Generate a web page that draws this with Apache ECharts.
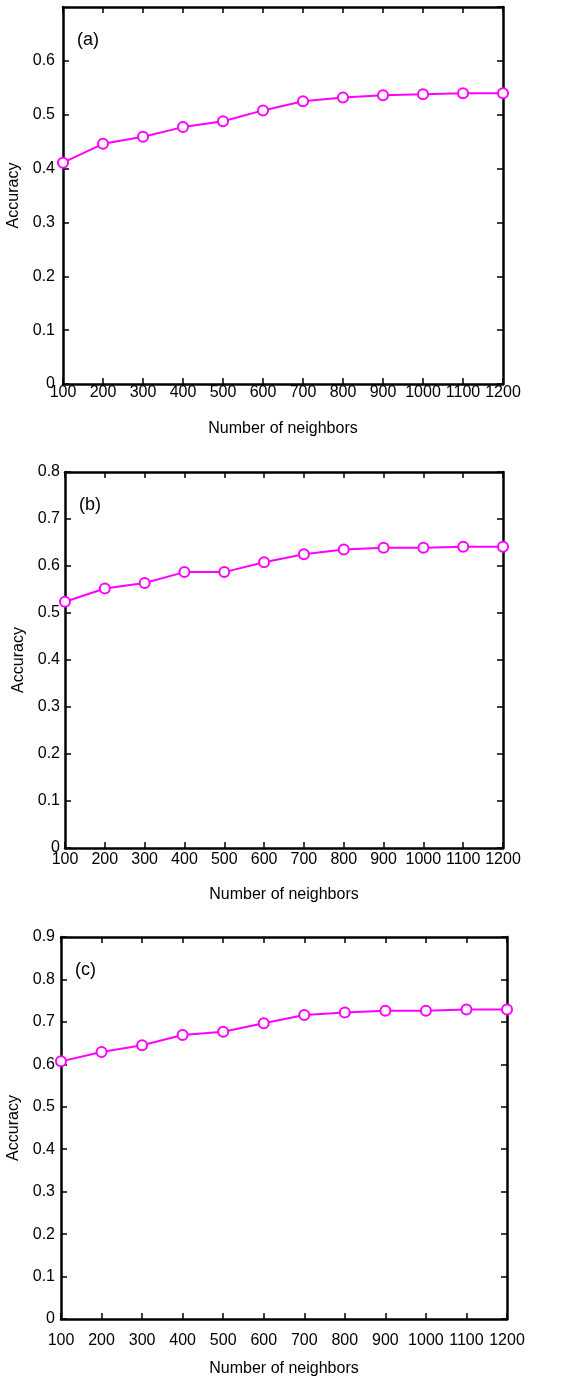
<!DOCTYPE html>
<html>
<head>
<meta charset="utf-8">
<script src="https://cdn.jsdelivr.net/npm/echarts@6/dist/echarts.min.js"></script>
<style>
  html, body { margin: 0; padding: 0; background: #fff; }
  #main { width: 579px; height: 1378px; }
</style>
</head>
<body>
<div id="main"></div>
<script>
// number of neighbors
var neighbors = [100, 200, 300, 400, 500, 600, 700, 800, 900, 1000, 1100, 1200];
// accuracy per panel
var accA = [0.411, 0.446, 0.459, 0.477, 0.488, 0.508, 0.525, 0.532, 0.536, 0.538, 0.540, 0.540];
var accB = [0.524, 0.552, 0.564, 0.587, 0.587, 0.608, 0.625, 0.635, 0.639, 0.639, 0.641, 0.641];
var accC = [0.607, 0.629, 0.645, 0.669, 0.677, 0.697, 0.716, 0.722, 0.726, 0.726, 0.729, 0.729];
var panelLabels = ['(a)', '(b)', '(c)'];
var yMax = [0.7, 0.8, 0.9];

var font = 'Arial, "Liberation Sans", sans-serif';
var magenta = '#ff00ff';

// grid boxes (px)
var boxes = [
  { left: 63, right: 76, top: 7, height: 377, xMargin: 1, yMargin: 8, nameGap: 37, yNameGap: 38 },
  { left: 65, right: 76, top: 472, height: 376, xMargin: 4, yMargin: 5, nameGap: 39, yNameGap: 33 },
  { left: 61, right: 72, top: 937, height: 382, xMargin: 14, yMargin: 6, nameGap: 42, yNameGap: 37 }
];
var allAcc = [accA, accB, accC];

var grids = [], xAxes = [], yAxes = [], series = [], titles = [];
boxes.forEach(function (b, i) {
  grids.push({ left: b.left, right: b.right, top: b.top, height: b.height, containLabel: false, outerBoundsMode: 'none' });
  var line = { show: true, onZero: false, lineStyle: { color: '#000', width: 2.5 } };
  var tick = { show: true, inside: true, length: 6, lineStyle: { color: '#000', width: 1.5 } };
  xAxes.push({
    gridIndex: i, type: 'value', min: 100, max: 1200, interval: 100,
    name: 'Number of neighbors', nameLocation: 'middle', nameGap: b.nameGap,
    nameTextStyle: { fontFamily: font, fontSize: 16, color: '#000' },
    axisLine: line, axisTick: tick,
    axisLabel: {
      fontFamily: font, fontSize: 16, color: '#000', margin: b.xMargin, verticalAlign: 'top',
      hideOverlap: false, showMinLabel: true, showMaxLabel: true,
      formatter: function (v) { return String(v); }
    },
    splitLine: { show: false }
  });
  xAxes.push({
    gridIndex: i, type: 'value', min: 100, max: 1200, interval: 100, position: 'top',
    axisLine: line, axisTick: tick, axisLabel: { show: false }, splitLine: { show: false }
  });
  yAxes.push({
    gridIndex: i, type: 'value', min: 0, max: yMax[i], interval: 0.1,
    name: 'Accuracy', nameLocation: 'middle', nameGap: b.yNameGap,
    nameTextStyle: { fontFamily: font, fontSize: 16, color: '#000' },
    axisLine: line, axisTick: tick,
    axisLabel: {
      fontFamily: font, fontSize: 16, color: '#000', margin: b.yMargin,
      showMaxLabel: i !== 0,
      formatter: function (v) { return v === 0 ? '0' : v.toFixed(1); }
    },
    splitLine: { show: false }
  });
  yAxes.push({
    gridIndex: i, type: 'value', min: 0, max: yMax[i], interval: 0.1, position: 'right',
    axisLine: line, axisTick: tick, axisLabel: { show: false }, splitLine: { show: false }
  });
  series.push({
    type: 'line',
    xAxisIndex: i * 2, yAxisIndex: i * 2,
    data: neighbors.map(function (n, k) { return [n, allAcc[i][k]]; }),
    symbol: 'emptyCircle', symbolSize: 10, clip: false,
    lineStyle: { color: magenta, width: 2 },
    itemStyle: { color: magenta, borderColor: magenta, borderWidth: 2 },
    animation: false
  });
  titles.push({
    text: panelLabels[i], left: b.left + 9, top: b.top + 19,
    textStyle: { fontFamily: font, fontSize: 18, fontWeight: 'normal', color: '#000' }
  });
});

var chart = echarts.init(document.getElementById('main'));
chart.setOption({
  backgroundColor: '#fff',
  animation: false,
  title: titles,
  grid: grids,
  xAxis: xAxes,
  yAxis: yAxes,
  series: series
});
</script>
</body>
</html>
